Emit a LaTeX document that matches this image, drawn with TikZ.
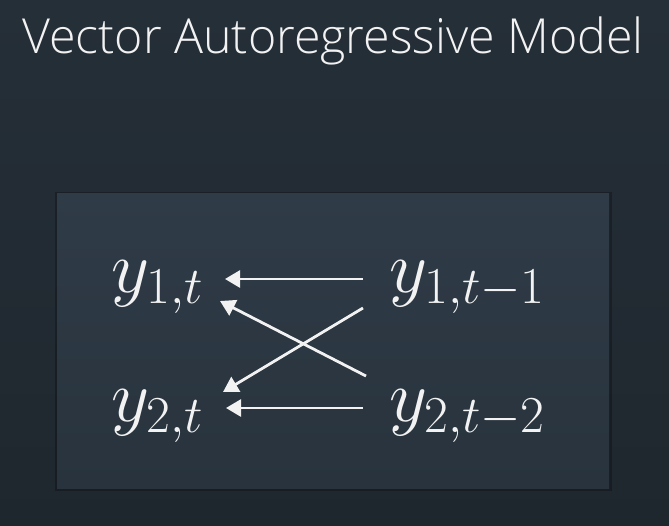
\RequirePackage{fix-cm}
\documentclass[tikz,border=0pt]{standalone}
\usepackage{fontspec}
\newfontfamily\titlefont{Open Sans Light}
\usetikzlibrary{arrows.meta}
\definecolor{bgtop}{HTML}{252F38}
\definecolor{bgbot}{HTML}{1F272E}
\definecolor{boxtop}{HTML}{2F3B47}
\definecolor{boxbot}{HTML}{28333D}
\definecolor{ink}{HTML}{F2F2F2}
\begin{document}
\begin{tikzpicture}[x=1pt,y=-1pt,
  lbl/.style={inner sep=0pt,anchor=base west,text=ink,font=\fontsize{74}{80}\selectfont},
  arr/.style={draw=ink,line width=2.8pt,-{Triangle[length=15pt,width=17pt]}}]
\useasboundingbox (0,0) rectangle (669,525);
\shade[top color=bgtop,bottom color=bgbot] (0,0) rectangle (669,525);
\node[inner sep=0pt,anchor=base west,text=ink,font=\titlefont\fontsize{48.3}{52}\selectfont] (title) at (22,53) {Vector Autoregressive Model};
\fill[black,opacity=0.25] (55,192) rectangle (612,491);
\shade[top color=boxtop,bottom color=boxbot] (57,193) rectangle (609,488);
\node[lbl] (a1) at (111,292) {$y_{1,t}$};
\node[lbl] (b1) at (389,292) {$y_{1,t-1}$};
\node[lbl] (a2) at (111,421) {$y_{2,t}$};
\node[lbl] (b2) at (389,421) {$y_{2,t-2}$};
\draw[arr] ([shift={(-26,-13)}]b1.base west) -- ([shift={(114,-13)}]a1.base west);
\draw[arr] ([shift={(-26,-13)}]b2.base west) -- ([shift={(115,-13)}]a2.base west);
\draw[arr] ([shift={(-26,16)}]b1.base west) -- ([shift={(112,-29)}]a2.base west);
\draw[arr] ([shift={(-23,-45)}]b2.base west) -- ([shift={(109,9)}]a1.base west);
\end{tikzpicture}
\end{document}
